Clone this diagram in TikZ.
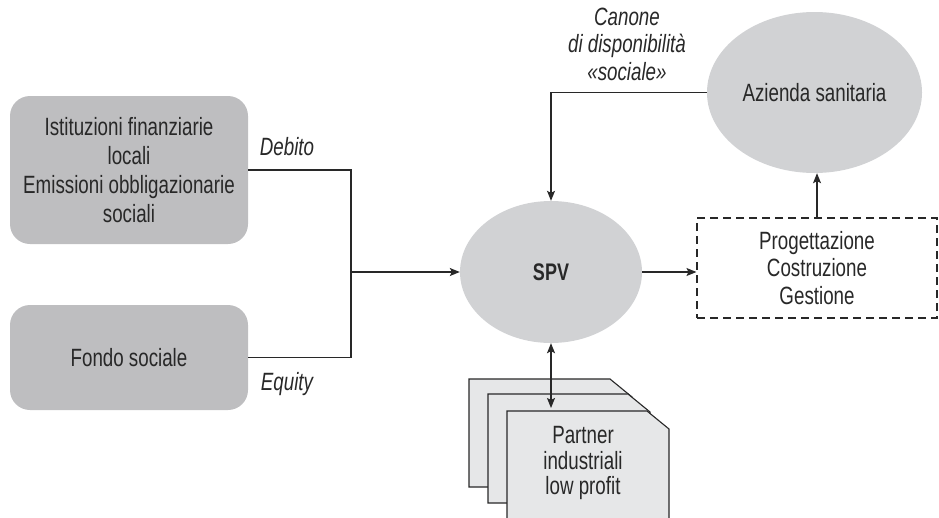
\documentclass[tikz,border=0pt]{standalone}
\usepackage{fontspec}
\setmainfont{Liberation Sans}[FakeStretch=0.75]
\usetikzlibrary{arrows.meta,calc,shapes.geometric}
\definecolor{boxgray}{RGB}{190,190,192}
\definecolor{ellgray}{RGB}{209,210,212}
\definecolor{docgray}{RGB}{230,231,232}
\definecolor{ink}{RGB}{40,40,40}
\begin{document}
\begin{tikzpicture}[x=1pt,y=-1pt,
  every node/.style={text=ink},
  txt/.style={font=\fontsize{25}{29}\selectfont, align=center},
  lbl/.style={font=\fontsize{25}{27.5}\selectfont\itshape, align=center, inner sep=0pt},
  rbox/.style={txt, fill=boxgray, rounded corners=20pt, minimum width=238pt, inner sep=0pt},
  ell/.style={txt, ellipse, fill=ellgray, inner sep=0pt},
  conn/.style={draw=ink, line width=1.1pt},
  arr/.style={conn, -{Stealth[length=10pt,width=8pt,inset=2pt]}},
  darr/.style={conn, {Stealth[length=10pt,width=8pt,inset=2pt]}-{Stealth[length=10pt,width=8pt,inset=2pt]}},
  doc/.style={draw=ink, line width=1.1pt, fill=docgray},
  dbox/.style={font=\fontsize{25}{27.5}\selectfont, align=center, draw=ink, line width=1.1pt, dash pattern=on 8pt off 5pt, minimum width=240pt, minimum height=100pt, inner sep=0pt}
]
\useasboundingbox (0,0) rectangle (939,517);

% left boxes
\node[rbox, minimum height=148pt] (fin) at (129,170) {Istituzioni finanziarie\\locali\\Emissioni obbligazionarie\\sociali};
\node[rbox, minimum height=105pt] (fondo) at (129,357.5) {Fondo sociale};

% ellipses
\node[ell, minimum width=182pt, minimum height=142pt, font=\fontsize{24}{27}\selectfont\bfseries] (spv) at (551,272) {SPV};
\node[ell, minimum width=215pt, minimum height=161pt] (aza) at (814.5,92.5) {Azienda sanitaria};

% dashed box
\node[dbox] (pcg) at (817,268) {Progettazione\\Costruzione\\Gestione};

% partner documents
\draw[doc] (469,379) -- (610,379) -- (632,397) -- (632,487) -- (469,487) -- cycle;
\draw[doc] (488,394) -- (628,394) -- (650,412) -- (650,503) -- (488,503) -- cycle;
\draw[doc] (507,411) -- (647,411) -- (669,429) -- (669,530) -- (507,530) -- cycle;
\node[txt, font=\fontsize{25}{25.5}\selectfont] (partner) at (583,463) {Partner\\industriali\\low profit};

% labels
\node[lbl] (debito) at (287,147) {Debito};
\node[lbl] (equity) at (287,384) {Equity};
\node[lbl] (canone) at (627,44) {Canone\\di disponibilità\\«sociale»};

% connectors
\coordinate (jx) at (351,272);
\coordinate (ptop) at (551,408);
\draw[conn] (fin.east) -| (jx) |- (fondo.east);
\draw[arr] (jx) -- (spv.west);
\draw[arr] (spv.east) -- (spv.east -| pcg.west);
\draw[arr] (pcg.north) -- (pcg.north |- aza.south);
\draw[arr] (aza.west) -| (spv.north);
\draw[darr] (spv.south) -- (ptop);
\end{tikzpicture}
\end{document}
